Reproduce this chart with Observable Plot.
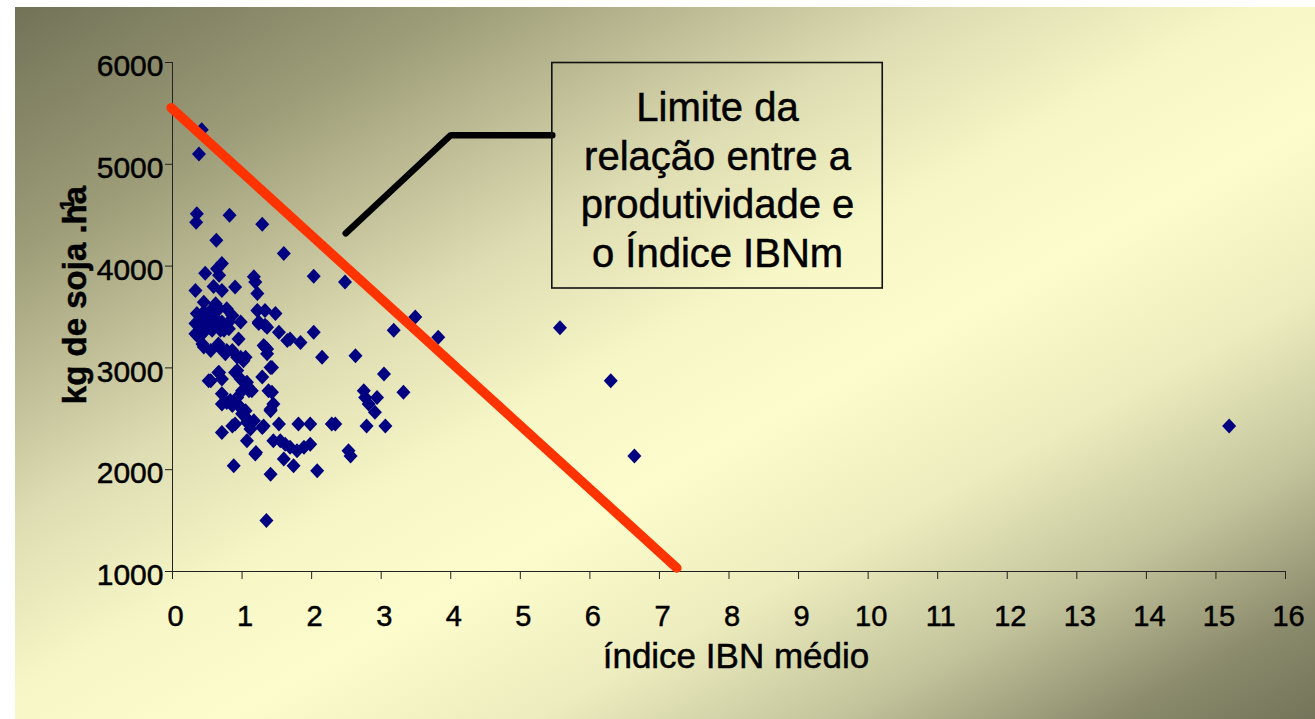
<!DOCTYPE html>
<html>
<head>
<meta charset="utf-8">
<script src="https://cdn.jsdelivr.net/npm/d3@7"></script>
<script src="https://cdn.jsdelivr.net/npm/@observablehq/plot@0.6"></script>
<style>
  html, body { margin: 0; padding: 0; background: #ffffff; }
  #wrap { position: relative; width: 1315px; height: 719px; overflow: hidden; }
  #bg {
    position: absolute; left: 15px; top: 7px; width: 1300px; height: 712px;
    background: linear-gradient(to bottom right,
      rgb(114,114,88) 0%, rgb(156,156,120) 17%, rgb(222,220,178) 36%,
      rgb(246,246,198) 48%, rgb(252,252,204) 58%, rgb(236,236,190) 70%,
      rgb(198,198,158) 81%, rgb(136,136,106) 93%, rgb(116,116,90) 100%);
  }
  #chart { position: absolute; left: 0; top: 0; }
  #chart svg text { stroke: #000; stroke-width: 0.5px; }
</style>
</head>
<body>
<div id="wrap"><div id="bg"></div><div id="chart"></div></div>
<script>
// Mean IBN index per field and soybean yield (kg/ha)
const ibn = [
  0.42, 0.38, 0.35, 0.34, 0.82, 1.29, 0.63, 1.60, 2.03, 2.48, 0.71, 0.64, 0.47, 0.67, 1.17, 1.19, 0.33, 0.59, 0.71, 0.90, 1.22,
  0.35, 0.45, 0.55, 0.67, 0.78, 0.86, 0.33, 0.43, 0.52, 0.62, 0.71, 0.81, 0.98, 0.35, 0.45, 0.57, 0.69, 0.81, 0.95,
  0.45, 0.55, 0.67, 0.76, 0.86, 0.98, 1.05, 0.67, 0.55, 0.71, 0.93, 0.98, 1.07, 1.14, 1.00, 0.93, 0.71, 0.78, 0.71, 0.86, 0.98, 1.05, 1.00,
  1.22, 1.33, 1.48, 1.24, 1.36, 1.53, 1.65, 1.69, 1.84, 2.03, 1.31, 1.36, 1.36, 1.41, 1.29, 1.43, 1.45, 1.41,
  2.15, 2.63, 3.04, 3.32, 2.75, 2.77, 2.82, 2.94, 2.91, 2.79, 3.06, 3.18, 3.49, 3.82,
  0.71, 0.86, 0.90, 1.07, 1.17, 1.12, 1.07, 1.31, 1.53, 1.81, 1.98, 2.29, 2.34, 1.45, 1.55, 1.62, 1.69, 1.79, 1.89, 1.98,
  1.60, 1.74, 2.08, 1.41, 0.88, 1.20, 2.53, 2.56, 1.35,
  0.45, 0.62, 0.33, 0.43, 0.52, 0.64, 0.74, 0.43, 0.66, 0.78, 0.93, 1.02, 0.52, 0.66, 0.90, 1.10, 0.83, 1.00, 1.10, 1.29, 1.19,
  1.24, 1.33, 1.43, 1.38, 1.41, 1.33,
  5.57, 6.30, 6.64, 15.19
];
const yieldKg = [
  5340, 5100, 4515, 4430, 4500, 4410, 4255, 4125, 3900, 3845, 4025, 3975, 3930, 3910, 3895, 3845, 3760, 3800, 3760, 3795, 3730,
  3535, 3550, 3565, 3580, 3580, 3515, 3435, 3450, 3465, 3485, 3450, 3450, 3450, 3320, 3350, 3370, 3370, 3385, 3285,
  3205, 3170, 3205, 3140, 3170, 3105, 3105, 2955, 2875, 2890, 2975, 2890, 2860, 2775, 2775, 2710, 2745, 2660, 2645, 2630, 2610, 2580, 2550,
  3565, 3565, 3535, 3450, 3400, 3350, 3270, 3285, 3250, 3350, 3220, 3185, 3140, 3005, 2910, 2760, 2645, 2580,
  3105, 3120, 2940, 2760, 2775, 2710, 2645, 2710, 2565, 2430, 2430, 3370, 3500, 3300,
  2365, 2430, 2450, 2465, 2480, 2400, 2285, 2430, 2450, 2450, 2450, 2450, 2450, 2285, 2285, 2250, 2220, 2185, 2220, 2250,
  2105, 2040, 1990, 1955, 2040, 2170, 2185, 2135, 1500,
  3645, 3630, 3335, 3400, 3435, 3420, 3370, 3235, 3235, 3170, 3105, 3070, 2875, 2955, 2955, 2775, 2680, 2595, 2480, 2415, 2155,
  3435, 3420, 3005, 2775, 2595, 3205,
  3395, 2875, 2135, 2430
];

// Upper limit of the yield vs. IBNm relationship
const limitIbn = [-0.02, 7.25];
const limitYield = [5555, 1035];

// Callout leader and box
const leaderIbn = [2.49, 4.0, 5.46];
const leaderYield = [4322, 5286, 5286];
const boxIbn = [5.46, 10.21];
const boxYield = [3780, 5995];
const calloutText = "Limite da\nrelação entre a\nprodutividade e\no Índice IBNm";
const calloutAt = [7.835, 4860];

const xTicks = d3.range(0, 17);
const yTicks = [1000, 2000, 3000, 4000, 5000, 6000];
const xTitle = "índice IBN médio";
const yTitleMain = "kg de soja .ha";
const yTitleSup = "-1";

const points = ibn.map((x, i) => ({x, y: yieldKg[i]}));
const limit = limitIbn.map((x, i) => ({x, y: limitYield[i]}));
const leader = leaderIbn.map((x, i) => ({x, y: leaderYield[i]}));

// Rotated-square marker as drawn by the spreadsheet
const diamond = {
  draw(ctx) {
    ctx.moveTo(0, -7.5);
    ctx.lineTo(7, 0);
    ctx.lineTo(0, 7.5);
    ctx.lineTo(-7, 0);
    ctx.closePath();
  }
};

const font = "Arial, 'Liberation Sans', sans-serif";

const chart = Plot.plot({
  width: 1315,
  height: 719,
  marginLeft: 172,
  marginRight: 30,
  marginTop: 62,
  marginBottom: 148,
  style: {background: "transparent", fontFamily: font, color: "#000", overflow: "visible"},
  x: {domain: [0, 16]},
  y: {domain: [1000, 6000]},
  marks: [
    // axes
    Plot.axisY({ticks: yTicks, tickSize: 7, text: null, stroke: "#222", label: null}),
    Plot.axisY({ticks: yTicks, tickFormat: d => String(d), tickSize: 0, tickPadding: 9, dy: 4, fontSize: 30, label: null, fill: "#000"}),
    Plot.axisX({ticks: xTicks, tickSize: 8, text: null, stroke: "#222", label: null}),
    Plot.axisX({ticks: xTicks, tickFormat: d => String(d), tickSize: 0, tickPadding: 34, dx: 3, fontSize: 29, label: null, fill: "#000"}),
    Plot.ruleX([0], {stroke: "#222", strokeWidth: 1}),
    Plot.ruleY([1000], {stroke: "#222", strokeWidth: 1}),
    // observations
    Plot.dot(points, {x: "x", y: "y", symbol: diamond, fill: "#000080", stroke: "none"}),
    // limit line
    Plot.line(limit, {x: "x", y: "y", stroke: "#ff3300", strokeWidth: 9.5, strokeLinecap: "round"}),
    // callout
    Plot.line(leader, {x: "x", y: "y", stroke: "#000", strokeWidth: 6.5, strokeLinejoin: "miter"}),
    Plot.rect([0], {x1: () => boxIbn[0], x2: () => boxIbn[1], y1: () => boxYield[0], y2: () => boxYield[1],
      fill: "none", stroke: "#111", strokeWidth: 1.6}),
    Plot.text([calloutText], {x: () => calloutAt[0], y: () => calloutAt[1], text: d => d,
      fontSize: 40, lineHeight: 1.21, textAnchor: "middle", lineAnchor: "middle", fill: "#000"}),
    // axis titles
    Plot.text([xTitle], {x: () => 8.1, frameAnchor: "bottom", dy: 96, text: d => d, fontSize: 35,
      textAnchor: "middle", fill: "#000"}),
    Plot.text([yTitleMain], {frameAnchor: "left", rotate: -90, dx: -97, dy: -22, text: d => d, fontSize: 33,
      fontWeight: "bold", textAnchor: "middle", fill: "#000"})
  ]
});

// superscript unit exponent on the y title
d3.select(chart).selectAll("text")
  .filter(function () { return this.textContent === yTitleMain; })
  .append("tspan")
  .attr("font-size", 20)
  .attr("dx", -31)
  .attr("dy", -12)
  .text(yTitleSup);

document.getElementById("chart").appendChild(chart);
</script>
</body>
</html>
